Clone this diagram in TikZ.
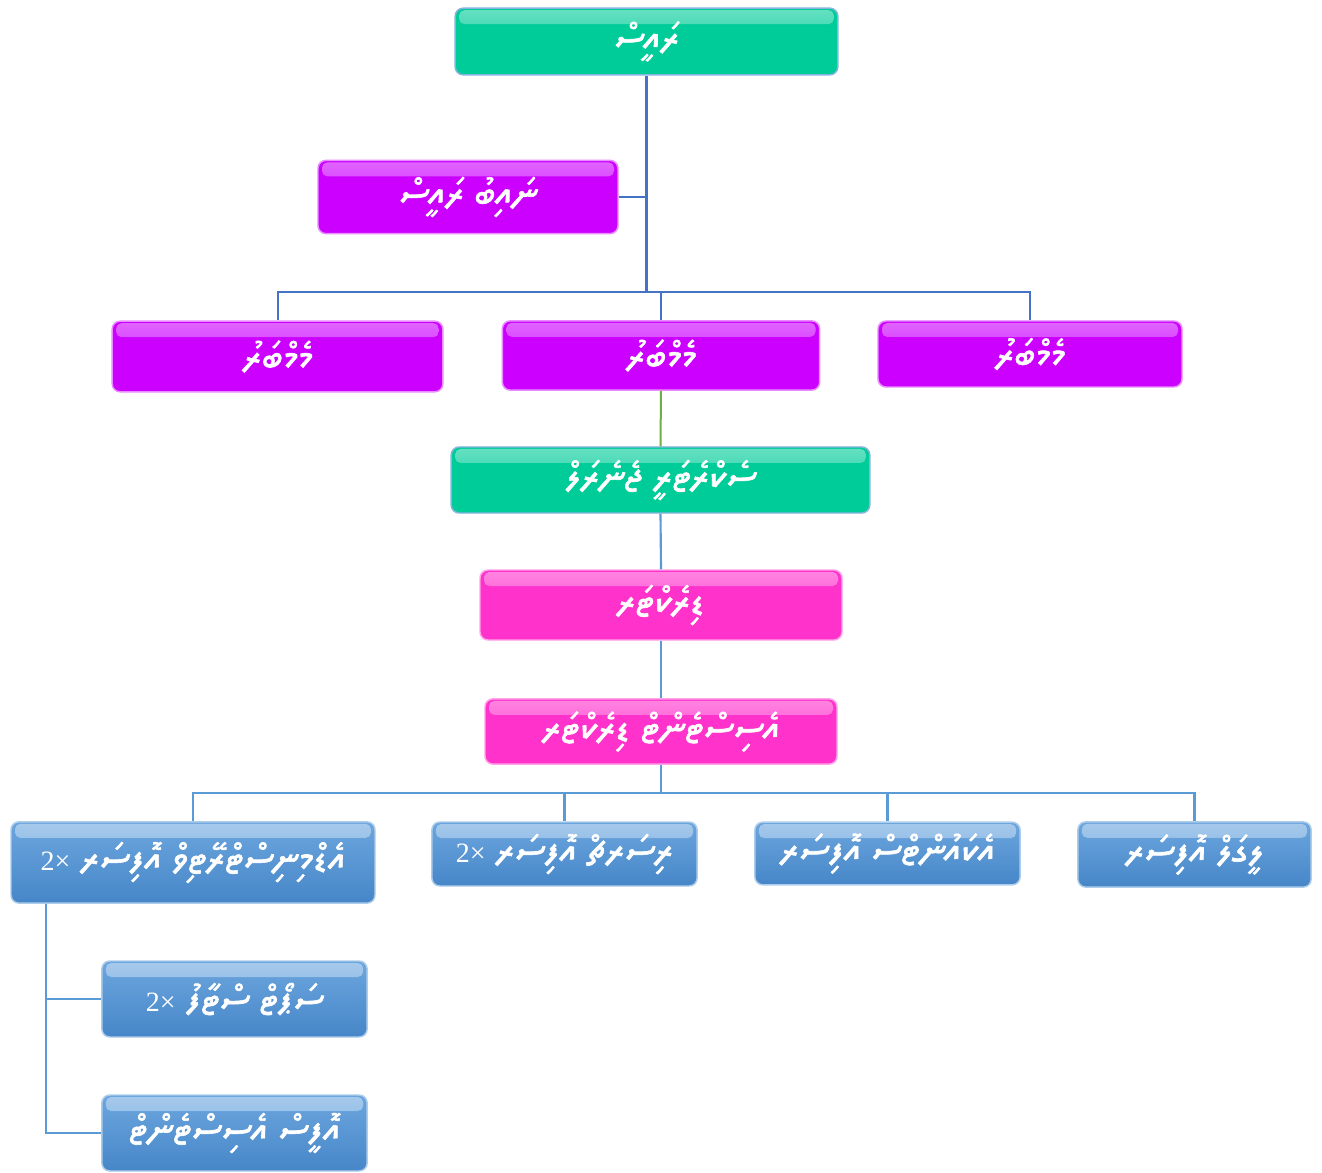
\documentclass[tikz,border=0pt]{standalone}
\usepackage{fontspec}
\usepackage{tikz}
\TeXXeTstate=1
\IfFontExistsTF{Noto Sans Thaana}{\newfontfamily\dvfont[Script=Thaana,AutoFakeBold=1.6]{Noto Sans Thaana}}{%
  \IfFontExistsTF{FreeSans}{\newfontfamily\dvfont[Script=Thaana]{FreeSans}}{\newfontfamily\dvfont{DejaVu Sans}}}
\newfontfamily\lfont{Liberation Serif}
\newcommand{\dv}[1]{{\dvfont\bfseries\beginR #1\endR}}
\newcommand{\two}{\beginL{\lfont\mdseries\fontsize{21}{24}\selectfont 2×}\endL}
\definecolor{boxgreen}{RGB}{0,204,153}
\definecolor{boxpurple}{RGB}{204,0,255}
\definecolor{boxpink}{RGB}{255,51,204}
\definecolor{bluetop}{RGB}{108,166,222}
\definecolor{bluebot}{RGB}{70,134,200}
\definecolor{linkdark}{RGB}{68,114,196}
\definecolor{linkgreen}{RGB}{112,173,71}
\definecolor{linkblue}{RGB}{91,155,213}
\begin{document}
\begin{tikzpicture}[x=0.75pt,y=0.75pt,yscale=-1,
    card/.style={rounded corners=6pt, line width=1.1pt, text=white, inner sep=0pt,
      font=\fontsize{29}{32}\selectfont,
      path picture={\shade[top color=white!40!#1, bottom color=#1, rounded corners=4pt]
        ([xshift=3pt,yshift=-1.5pt]path picture bounding box.north west) rectangle
        ([xshift=-3pt,yshift=-12pt]path picture bounding box.north east);}},
    greencard/.style={card=boxgreen, fill=boxgreen, draw=linkblue!75!white},
    purplecard/.style={card=boxpurple, fill=boxpurple, draw=boxpurple!45!white},
    pinkcard/.style={card=boxpink, fill=boxpink, draw=boxpink!45!white},
    bluecard/.style={card=bluetop, top color=bluetop, bottom color=bluebot, draw=linkblue!50!white},
    trunk/.style={draw=linkdark, line width=2.2pt},
    link/.style={draw=linkdark, line width=1.5pt},
    sublink/.style={draw=linkblue, line width=1.6pt}]
        \fill[white] (0,0) rectangle (1322,1173);
        \useasboundingbox (0,0) rectangle (1322,1173);

        \node[greencard, minimum width=287pt, minimum height=50pt] (raees) at (646.5,41.5) {\dv{ރައީސް}};
        \node[purplecard, minimum width=225pt, minimum height=55pt] (naib) at (468,197) {\dv{ނައިބު ރައީސް}};
        \node[purplecard, minimum width=248pt, minimum height=53pt] (member1) at (277.5,356.5) {\dv{މެމްބަރު}};
        \node[purplecard, minimum width=238pt, minimum height=52pt] (member2) at (661,355.5) {\dv{މެމްބަރު}};
        \node[purplecard, minimum width=228pt, minimum height=49.5pt] (member3) at (1030,354) {\dv{މެމްބަރު}};
        \node[greencard, minimum width=314pt, minimum height=49.5pt] (secgen) at (660.5,480) {\dv{ސެކްރެޓަރީ ޖެނެރަލް}};
        \node[pinkcard, minimum width=271.5pt, minimum height=52.5pt] (director) at (661,605) {\dv{ޑިރެކްޓަރ}};
        \node[pinkcard, minimum width=264pt, minimum height=49pt] (asstdir) at (661,731.5) {\dv{އެސިސްޓެންޓް ޑިރެކްޓަރ}};

        \node[bluecard, minimum width=273pt, minimum height=61pt] (admin) at (193,862.5) {\dv{އެޑްމިނިސްޓްރޭޓިވް އޮފިސަރ \two}};
        \node[bluecard, minimum width=199pt, minimum height=48pt] (research) at (564.5,854) {\dv{ރިސަރޗް އޮފިސަރ \two}};
        \node[bluecard, minimum width=199pt, minimum height=47pt] (accounts) at (887.5,853.5) {\dv{އެކައުންޓްސް އޮފިސަރ}};
        \node[bluecard, minimum width=175pt, minimum height=49pt] (legal) at (1194.5,854.5) {\dv{ލީގަލް އޮފިސަރ}};
        \node[bluecard, minimum width=199pt, minimum height=57pt] (support) at (234.5,999) {\dv{ސަޕޯޓް ސްޓާފު \two}};
        \node[bluecard, minimum width=199pt, minimum height=57pt] (officeasst) at (234.5,1133) {\dv{އޮފީސް އެސިސްޓެންޓް}};

        \coordinate (hub) at (646.5,292);
        \coordinate (bar) at (0,793);
        \coordinate (spine) at (46,0);

        \draw[trunk] (raees.south) -- (hub);
        \draw[link] (naib.east) -- (naib.east -| hub);
        \draw[link] (member1.north) -- (member1.north |- hub) -- (member3.north |- hub) -- (member3.north);
        \draw[link] (member2.north) -- (member2.north |- hub);
        \draw[link, draw=linkgreen] (member2.south) -- (secgen.north);
        \draw[sublink] (secgen.south) -- (director.north);
        \draw[sublink] (director.south) -- (asstdir.north);
        \draw[sublink] (asstdir.south) -- (asstdir.south |- bar);
        \draw[sublink] (admin.north) -- (admin.north |- bar) -- (legal.north |- bar) -- (legal.north);
        \draw[sublink] (research.north) -- (research.north |- bar);
        \draw[sublink] (accounts.north) -- (accounts.north |- bar);
        \draw[sublink] (admin.south -| spine) -- (spine |- officeasst.west) -- (officeasst.west);
        \draw[sublink] (spine |- support.west) -- (support.west);
\end{tikzpicture}
\end{document}
